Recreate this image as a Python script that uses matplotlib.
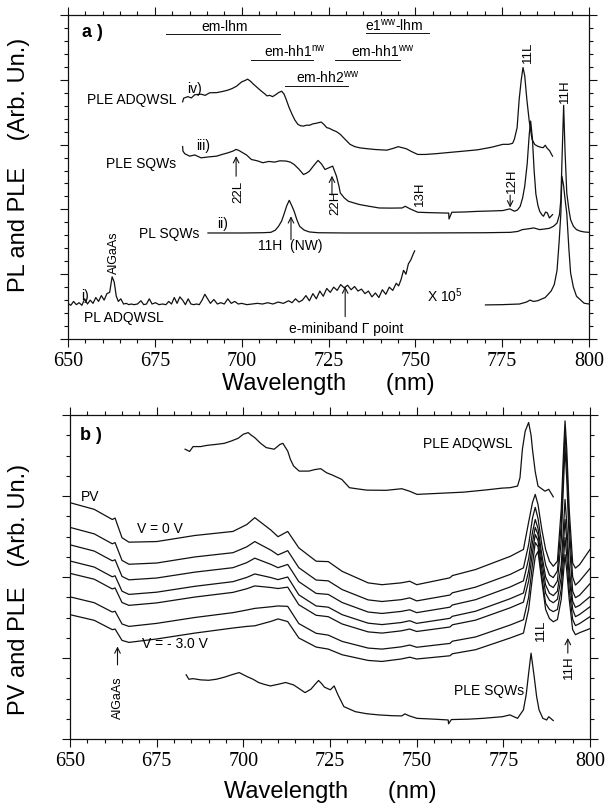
import matplotlib
matplotlib.use('Agg')
import matplotlib.pyplot as plt
from matplotlib.ticker import MultipleLocator

plt.rcParams['font.family'] = ['Liberation Sans', 'DejaVu Sans']
plt.rcParams['mathtext.fontset'] = 'custom'
plt.rcParams['mathtext.rm'] = 'Liberation Sans'
plt.rcParams['mathtext.it'] = 'Liberation Sans:italic'
plt.rcParams['mathtext.bf'] = 'Liberation Sans:bold'

# ---------------- tick labels ----------------
xticks = [650, 675, 700, 725, 750, 775, 800]
xtick_labels = ['650', '675', '700', '725', '750', '775', '800']

# ---------------- panel a data ----------------
# iv) PLE ADQWSL
a_iv_x = [683.0, 683.3, 684.5, 685.5, 686.5, 688.3, 689.5, 690.8, 692.8, 694.5,
          696.0, 697.2, 698.5, 700.0, 701.0, 701.7, 702.5, 703.4, 704.5, 705.6,
          706.5, 707.3, 708.1, 708.9, 709.8, 710.6, 711.5, 712.2, 712.8, 713.6,
          714.5, 715.3, 716.2, 717.0, 717.8, 718.7, 719.5, 720.5, 721.5, 722.9,
          723.7, 724.5, 725.3, 726.2, 727.3, 728.4, 729.8, 731.2, 732.5, 734.0,
          736.2, 738.5, 741.8, 743.5, 745.1, 747.4, 749.0, 750.7, 752.9, 756.0,
          760.0, 764.1, 768.0, 772.0, 775.2, 776.9, 778.0, 778.5, 779.3, 779.9,
          780.5, 781.0, 781.5, 782.1, 782.8, 783.6, 784.4, 785.2, 786.0, 786.8,
          787.4, 788.0, 788.6, 789.5]
a_iv_y = [18.3, 18.58, 18.7, 18.6, 18.85, 18.89, 18.8, 19.0, 19.01, 19.1,
          19.2, 19.32, 19.5, 19.84, 19.95, 20.05, 19.9, 19.66, 19.4, 19.14,
          18.95, 18.76, 18.8, 18.70, 18.85, 19.01, 19.12, 18.9, 18.50, 17.9,
          17.34, 16.9, 16.56, 16.45, 16.43, 16.5, 16.49, 16.6, 16.65, 16.74,
          16.55, 16.31, 16.25, 16.12, 16.0, 15.79, 15.4, 15.02, 14.85, 14.75,
          14.68, 14.62, 14.57, 14.7, 14.84, 14.68, 14.45, 14.24, 14.24, 14.3,
          14.4, 14.50, 14.6, 14.8, 15.02, 15.02, 15.1, 15.40, 16.3, 18.50,
          20.0, 20.95, 20.3, 18.50, 16.8, 15.40, 15.0, 14.88, 14.8, 14.76,
          14.95, 14.7, 14.55, 14.11]

# iii) PLE SQWs
a_iii_x = [683.0, 683.1, 683.6, 685.0, 686.5, 688.3, 690.5, 692.8, 694.5, 696.1,
           697.5, 698.4, 699.2, 700.0, 701.4, 702.8, 704.5, 706.1, 707.8, 709.5,
           711.0, 712.8, 714.0, 715.1, 716.5, 717.8, 718.7, 719.5, 720.8, 722.0,
           723.0, 724.0, 725.1, 726.2, 727.3, 728.0, 728.4, 729.5, 730.7, 732.3,
           734.0, 736.5, 739.6, 743.0, 746.2, 747.1, 748.5, 750.7, 754.0, 758.5,
           759.6, 759.7, 760.5, 764.1, 768.0, 772.0, 775.2, 777.2, 778.5, 779.4,
           780.2, 780.9, 781.5, 782.2, 782.8, 783.2, 783.7, 784.2, 784.7, 785.3,
           785.8, 786.4, 786.9, 787.5, 788.0, 788.6, 789.5]
a_iii_y = [14.85, 14.5, 14.3, 14.11, 14.2, 13.98, 14.05, 14.11, 14.25, 14.37,
           14.5, 14.63, 14.55, 14.42, 14.2, 13.85, 13.75, 13.60, 13.7, 13.65,
           13.75, 13.73, 13.65, 13.47, 13.1, 12.69, 12.8, 12.95, 13.4, 13.78,
           13.5, 13.08, 13.21, 13.34, 12.56, 11.8, 11.27, 10.9, 10.63, 10.5,
           10.37, 10.25, 10.11, 10.1, 10.11, 10.24, 10.04, 9.78, 9.75, 9.72,
           9.72, 9.26, 9.78, 9.80, 9.85, 9.88, 9.91, 10.04, 9.86, 9.95,
           10.24, 10.9, 11.8, 13.5, 15.8, 16.82, 15.5, 13.0, 11.2, 10.3,
           9.86, 9.6, 9.47, 9.8, 9.73, 9.34, 9.60]

# ii) PL SQWs
a_ii_x = [690.3, 700.0, 706.0, 708.4, 709.7, 710.6, 711.5, 712.3, 713.0, 713.7,
          714.4, 715.1, 715.9, 716.7, 718.0, 719.5, 722.0, 730.0, 750.0, 770.0,
          777.4, 779.5, 780.8, 782.5, 784.1, 785.0, 785.8, 787.5, 788.6, 789.8,
          790.8, 791.5, 791.9, 792.3, 792.7, 793.1, 793.6, 794.2, 794.7, 795.5,
          796.4, 797.5, 798.6, 800.0]
a_ii_y = [8.18, 8.18, 8.2, 8.23, 8.4, 8.69, 9.1, 9.72, 10.3, 10.70,
          10.3, 9.86, 9.2, 8.69, 8.4, 8.26, 8.2, 8.18, 8.18, 8.2,
          8.23, 8.3, 8.44, 8.5, 8.57, 8.5, 8.44, 8.5, 8.54, 8.7,
          8.95, 9.6, 10.76, 14.5, 18.03, 14.5, 11.27, 10.0, 9.21, 8.7,
          8.44, 8.32, 8.26, 8.23]

# i) PL ADQWSL (left part)
a_i_x = [650.0, 650.8, 651.6, 652.4, 653.2, 654.0, 654.8, 655.6, 656.4, 657.2,
         658.0, 658.8, 659.6, 660.4, 661.2, 662.0, 662.7, 663.3, 663.9, 664.5,
         665.2, 666.0, 666.8, 667.5, 668.2, 669.0, 670.0, 671.0, 671.8, 672.6,
         673.4, 674.2, 675.2, 676.2, 677.2, 678.2, 679.0, 679.8, 680.6, 681.4,
         682.2, 683.0, 683.8, 684.6, 685.4, 686.2, 687.0, 687.8, 688.6, 689.4,
         690.2, 691.0, 692.0, 693.0, 694.0, 695.0, 696.0, 697.0, 698.0, 699.0,
         700.0, 701.5, 703.0, 704.5, 706.0, 707.5, 709.0, 710.5, 712.0, 713.5,
         714.5, 715.5, 716.5, 717.5, 718.5, 719.5, 720.5, 721.5, 722.5, 723.5,
         724.5, 725.5, 726.5, 727.5, 728.5, 729.5, 730.5, 731.5, 732.5, 733.5,
         734.5, 735.5, 736.5, 737.5, 738.5, 739.5, 740.5, 741.5, 742.5, 743.5,
         744.5, 745.2, 745.9, 746.6, 747.3, 748.0, 748.7, 749.3, 749.8]
a_i_y = [2.75, 2.6, 2.9, 2.65, 2.8, 2.6, 3.1, 2.7, 3.0, 2.75,
         3.2, 2.9, 3.35, 3.0, 3.5, 3.6, 4.8, 4.4, 3.3, 2.9,
         3.1, 2.7, 2.75, 2.65, 2.7, 2.65, 2.7, 2.95, 2.65, 2.7,
         3.1, 2.7, 2.8, 2.65, 2.7, 2.65, 2.9, 2.7, 3.2, 2.75,
         3.25, 3.0, 2.65, 3.1, 2.7, 2.65, 2.7, 2.65, 3.0, 3.45,
         3.1, 2.75, 3.05, 2.7, 2.8, 2.7, 3.1, 2.75, 2.9, 2.7,
         2.75, 2.65, 2.7, 2.75, 2.7, 2.8, 2.7, 2.85, 2.75, 2.95,
         2.8, 3.1, 2.85, 3.0, 3.35, 2.95, 3.5, 3.1, 3.7, 3.3,
         3.9, 3.6, 4.0, 3.75, 4.2, 3.95, 4.15, 3.8, 4.05, 3.7,
         3.85, 3.5, 3.7, 3.25, 3.55, 3.2, 3.8, 3.45, 4.0, 3.75,
         4.3, 4.1, 4.6, 5.3, 5.0, 5.8, 6.1, 6.5, 6.8]

# i) PL ADQWSL (x 10^5 part)
a_i2_x = [770.2, 775.0, 780.0, 782.0, 783.0, 784.0, 785.2, 787.4, 789.1, 790.0,
          790.8, 791.4, 791.9, 792.2, 792.7, 793.1, 793.6, 794.2, 794.7, 795.5,
          796.4, 798.6, 800.0]
a_i2_y = [2.63, 2.65, 2.7, 2.85, 3.0, 2.9, 2.95, 3.2, 3.7, 4.2,
          5.3, 7.5, 9.7, 12.56, 11.8, 10.8, 9.7, 7.0, 5.1, 4.0,
          3.3, 2.76, 2.7]

# ---------------- panel b data ----------------
b_adq_x = [683.2, 684.5, 685.5, 687.7, 689.5, 692.2, 694.5, 696.6, 698.5, 700.0,
           701.4, 702.3, 703.3, 705.0, 706.6, 708.9, 710.6, 711.4, 712.8, 713.6,
           714.5, 716.1, 718.9, 720.5, 722.3, 724.0, 725.6, 728.4, 730.6, 733.0,
           735.6, 741.2, 745.7, 747.9, 750.1, 755.0, 763.5, 770.0, 774.7, 776.9,
           779.1, 779.8, 780.5, 781.3, 782.3, 783.0, 783.4, 784.2, 785.0, 787.0,
           788.1, 789.4]
b_adq_y = [14.31, 14.2, 14.44, 14.44, 14.5, 14.55, 14.6, 14.72, 14.85, 15.05,
           15.13, 15.0, 14.88, 14.6, 14.39, 14.31, 14.55, 14.60, 14.22, 13.8,
           13.48, 13.23, 13.23, 13.3, 13.35, 13.15, 13.04, 12.82, 12.41, 12.35,
           12.29, 12.28, 12.36, 12.24, 12.08, 12.12, 12.19, 12.3, 12.39, 12.41,
           12.49, 12.9, 14.31, 15.2, 15.63, 15.0, 14.31, 13.2, 12.49, 12.24,
           12.33, 11.96]

b_sqw_x = [683.5, 684.3, 685.5, 687.7, 690.0, 692.2, 694.5, 696.6, 698.8, 701.1,
           702.8, 704.4, 706.0, 707.8, 710.0, 712.2, 714.5, 716.0, 717.8, 719.5,
           720.7, 721.7, 722.5, 723.4, 725.1, 726.2, 727.3, 729.0, 732.3, 735.5,
           739.0, 743.0, 745.7, 746.6, 747.9, 750.1, 755.0, 759.1, 759.2, 760.0,
           765.0, 769.1, 774.7, 776.9, 779.1, 780.8, 781.6, 782.3, 783.0, 783.9,
           784.6, 785.3, 786.4, 787.5, 788.1, 789.4]
b_sqw_y = [3.17, 2.95, 2.98, 2.92, 2.9, 2.95, 3.05, 3.17, 3.28, 3.08,
           2.95, 2.79, 2.7, 2.62, 2.7, 2.79, 2.67, 2.5, 2.29, 2.46,
           2.7, 2.89, 2.75, 2.56, 2.43, 2.62, 2.18, 1.60, 1.35, 1.25,
           1.19, 1.15, 1.14, 1.24, 1.14, 1.02, 0.98, 0.94, 0.75, 0.96,
           0.98, 1.02, 1.10, 1.19, 1.02, 1.44, 2.2, 3.25, 4.24, 3.08,
           2.1, 1.44, 1.02, 0.94, 1.10, 0.91]

# PV spectra, V = 0 V (top) ... V = -3.0 V (bottom)
pv_x = [650.0, 657.0, 662.2, 663.0, 665.0, 667.0, 675.0, 686.0, 697.0, 701.0,
        703.3, 708.0, 710.0, 712.8, 716.0, 721.0, 724.5, 728.5, 736.0, 740.0,
        745.5, 748.0, 750.0, 759.6, 760.3, 767.0, 777.0, 780.8, 782.3, 783.4,
        784.2, 785.0, 786.1, 787.2, 788.3, 789.4, 790.6, 791.7, 792.4, 792.8,
        793.3, 794.0, 795.0, 795.8, 797.0, 800.0]
pv_0 = [11.67, 11.34, 10.84, 10.91, 9.94, 9.72, 9.75, 10.05, 10.25, 10.59,
        10.93, 10.31, 9.99, 10.25, 9.44, 8.78, 8.76, 8.28, 7.71, 7.62,
        7.71, 7.79, 7.62, 7.96, 8.07, 8.37, 9.02, 9.36, 10.71, 11.67,
        12.08, 11.58, 10.35, 9.36, 8.78, 8.53, 8.78, 11.34, 14.31, 15.71,
        14.31, 11.34, 8.69, 8.44, 8.61, 9.36]
pv_1 = [10.45, 10.13, 9.64, 9.70, 8.82, 8.63, 8.69, 8.99, 9.20, 9.49,
        9.75, 9.32, 9.09, 9.3, 8.46, 7.85, 7.81, 7.38, 6.87, 6.79,
        6.88, 6.97, 6.82, 7.11, 7.22, 7.50, 8.13, 8.45, 9.6, 10.9,
        11.44, 10.9, 9.6, 8.6, 8.1, 7.97, 8.3, 10.6, 13.6, 15.20,
        13.6, 10.6, 8.0, 7.6, 7.8, 8.42]
pv_2 = [9.59, 9.28, 8.80, 8.85, 8.03, 7.86, 7.95, 8.24, 8.46, 8.71,
        8.93, 8.62, 8.46, 8.62, 7.77, 7.19, 7.14, 6.74, 6.27, 6.20,
        6.30, 6.38, 6.24, 6.51, 6.62, 6.88, 7.51, 7.81, 8.9, 10.2,
        10.84, 10.4, 9.1, 8.0, 7.6, 7.48, 7.8, 9.8, 12.8, 14.41,
        12.8, 9.8, 7.3, 6.98, 7.1, 7.67]
pv_3 = [8.79, 8.49, 8.01, 8.06, 7.30, 7.14, 7.25, 7.54, 7.77, 7.98,
        8.15, 7.97, 7.87, 8.0, 7.12, 6.57, 6.51, 6.14, 5.72, 5.65,
        5.75, 5.84, 5.71, 5.96, 6.06, 6.31, 6.93, 7.21, 8.3, 9.7,
        10.45, 10.1, 8.8, 7.6, 7.2, 7.08, 7.3, 8.6, 10.6, 11.83,
        10.6, 8.5, 6.8, 6.5, 6.6, 7.03]
pv_4 = [8.18, 7.89, 7.41, 7.46, 6.74, 6.60, 6.72, 7.01, 7.24, 7.42,
        7.56, 7.48, 7.43, 7.5, 6.63, 6.11, 6.04, 5.68, 5.29, 5.23,
        5.34, 5.43, 5.31, 5.53, 5.64, 5.87, 6.48, 6.76, 7.8, 9.2,
        10.10, 9.8, 8.4, 7.2, 6.85, 6.73, 6.9, 8.0, 9.8, 10.84,
        9.8, 8.0, 6.4, 6.04, 6.15, 6.53]
pv_5 = [7.02, 6.73, 6.27, 6.31, 5.68, 5.56, 5.71, 6.00, 6.24, 6.37,
        6.45, 6.53, 6.57, 6.55, 5.70, 5.22, 5.13, 4.82, 4.49, 4.44,
        4.55, 4.64, 4.53, 4.72, 4.83, 5.04, 5.63, 5.89, 7.0, 8.6,
        9.70, 9.5, 8.0, 6.7, 6.4, 6.29, 6.4, 7.4, 9.0, 9.95,
        9.0, 7.4, 5.9, 5.6, 5.7, 6.04]
pv_6 = [6.14, 5.86, 5.40, 5.43, 4.87, 4.77, 4.94, 5.23, 5.48, 5.56,
        5.59, 5.81, 5.93, 5.80, 4.99, 4.54, 4.44, 4.16, 3.88, 3.83,
        3.95, 4.04, 3.95, 4.11, 4.21, 4.41, 4.99, 5.23, 6.4, 8.0,
        9.0, 9.26, 7.8, 6.4, 5.95, 5.79, 5.9, 6.9, 8.3, 9.11,
        8.3, 6.9, 5.4, 5.15, 5.25, 5.45]
pv_curves = [pv_0, pv_1, pv_2, pv_3, pv_4, pv_5, pv_6]

# ---------------- figure ----------------
LC = '#111111'
LW = 0.9
fig = plt.figure(figsize=(6.06, 8.04), dpi=100)
axa = fig.add_axes([68 / 606, 1 - 340 / 804, 521 / 606, 324 / 804])
axb = fig.add_axes([70 / 606, 1 - 740 / 804, 520 / 606, 324 / 804])


def style(ax, ymax, ymajor):
    ax.set_xlim(650, 800)
    ax.set_ylim(0, ymax)
    ax.set_xticks(xticks)
    ax.set_xticklabels(xtick_labels, fontfamily='Liberation Serif', fontsize=14.5)
    ax.xaxis.set_minor_locator(MultipleLocator(5))
    ax.yaxis.set_major_locator(MultipleLocator(ymajor))
    ax.yaxis.set_minor_locator(MultipleLocator(1))
    ax.tick_params(which='both', direction='out', top=True, right=True,
                   labelleft=False, color=LC, width=0.8)
    ax.tick_params(which='major', length=5.5, pad=3.5)
    ax.tick_params(which='minor', length=3)
    for s in ax.spines.values():
        s.set_linewidth(0.9)
        s.set_color(LC)


style(axa, 25, 5)
style(axb, 16, 4)

# ---- panel a curves ----
for xs, ys in [(a_iv_x, a_iv_y), (a_iii_x, a_iii_y), (a_ii_x, a_ii_y),
               (a_i_x, a_i_y), (a_i2_x, a_i2_y)]:
    axa.plot(xs, ys, color=LC, lw=LW)

FS = 10
axa.text(656.9, 23.7, 'a )', fontsize=13, fontweight='bold', ha='center', va='center')
# transition bars
bars = [(678.2, 711.0, 23.53, 695.0, 'em-lhm'),
        (735.7, 753.8, 23.58, 744.0, 'e1$^{\\mathregular{ww}}$-lhm'),
        (702.8, 720.6, 21.54, 715.3, 'em-hh1$^{\\mathregular{nw}}$'),
        (726.8, 745.7, 21.54, 740.6, 'em-hh1$^{\\mathregular{ww}}$'),
        (712.6, 730.7, 19.53, 724.8, 'em-hh2$^{\\mathregular{ww}}$')]
for x0, x1, yb, xt, txt in bars:
    axa.plot([x0, x1], [yb, yb], color=LC, lw=0.7)
    axa.text(xt, yb + 0.3, txt, fontsize=FS, ha='center', va='baseline')

axa.text(686.3, 19.4, 'iv)', fontsize=FS, ha='center', va='center')
axa.text(681.1, 18.5, 'PLE ADQWSL', fontsize=FS, ha='right', va='center')
axa.text(688.9, 15.0, 'iii)', fontsize=FS, ha='center', va='center')
axa.text(681.1, 13.6, 'PLE SQWs', fontsize=FS, ha='right', va='center')
axa.text(694.5, 8.95, 'ii)', fontsize=FS, ha='center', va='center')
axa.text(687.8, 8.18, 'PL SQWs', fontsize=FS, ha='right', va='center')
axa.text(654.9, 3.41, 'i)', fontsize=FS, ha='center', va='center')
axa.text(666.1, 1.73, 'PL ADQWSL', fontsize=FS, ha='center', va='center')
axa.text(663.3, 6.76, 'AlGaAs', fontsize=9, ha='center', va='center', rotation=90)
axa.text(758.5, 3.41, 'X 10$^{\\mathregular{5}}$', fontsize=FS, ha='center', va='center')
axa.text(713.9, 7.28, '11H  (NW)', fontsize=FS, ha='center', va='center')
axa.text(730.1, 0.83, 'e-miniband \u0393 point', fontsize=FS, ha='center', va='center')
axa.text(699.0, 11.4, '22L', fontsize=9.5, ha='center', va='center', rotation=90)
axa.text(727.0, 10.6, '22H', fontsize=9.5, ha='center', va='center', rotation=90)
axa.text(751.3, 11.3, '13H', fontsize=9.5, ha='center', va='center', rotation=90)
axa.text(777.9, 12.3, '12H', fontsize=9.5, ha='center', va='center', rotation=90)
axa.text(782.4, 22.2, '11L', fontsize=9.5, ha='center', va='center', rotation=90)
axa.text(793.0, 19.2, '11H', fontsize=9.5, ha='center', va='center', rotation=90)

arrow = dict(arrowstyle='->', lw=0.8, color=LC, shrinkA=0, shrinkB=0)
for xa, y0, y1 in [(698.4, 12.56, 14.11), (726.0, 11.1, 12.6), (777.3, 11.1, 10.15),
                   (714.2, 7.66, 9.47), (729.8, 1.73, 4.05)]:
    axa.annotate('', xy=(xa, y1), xytext=(xa, y0), arrowprops=arrow)

axa.set_ylabel('PL and PLE    (Arb. Un.)', fontsize=17)
axa.yaxis.set_label_coords(-0.072, 0.54)
axa.set_xlabel('Wavelength      (nm)', fontsize=17)
axa.xaxis.set_label_coords(0.5, -0.135)
axa.xaxis.label.set_va('center')

# ---- panel b curves ----
axb.plot(b_adq_x, b_adq_y, color=LC, lw=LW)
axb.plot(b_sqw_x, b_sqw_y, color=LC, lw=LW)
for ys in pv_curves:
    axb.plot(pv_x, ys, color=LC, lw=LW)

axb.text(655.9, 15.05, 'b )', fontsize=13, fontweight='bold', ha='center', va='center')
axb.text(764.6, 14.64, 'PLE ADQWSL', fontsize=FS, ha='center', va='center')
axb.text(655.9, 12.0, 'PV', fontsize=FS, ha='center', va='center')
axb.text(676.0, 10.43, 'V = 0 V', fontsize=FS, ha='center', va='center')
axb.text(680.4, 4.74, 'V = - 3.0 V', fontsize=FS, ha='center', va='center')
axb.text(663.7, 2.09, 'AlGaAs', fontsize=9, ha='center', va='center', rotation=90)
axb.text(770.8, 2.43, 'PLE SQWs', fontsize=FS, ha='center', va='center')
axb.text(785.8, 5.40, '11L', fontsize=9.5, ha='center', va='center', rotation=90)
axb.text(793.9, 3.58, '11H', fontsize=9.5, ha='center', va='center', rotation=90)
for xa, y0, y1 in [(663.7, 3.66, 4.57), (793.6, 4.24, 4.99)]:
    axb.annotate('', xy=(xa, y1), xytext=(xa, y0), arrowprops=arrow)

axb.set_ylabel('PV and PLE   (Arb. Un.)', fontsize=17)
axb.yaxis.set_label_coords(-0.077, 0.465)
axb.set_xlabel('Wavelength      (nm)', fontsize=17)
axb.xaxis.set_label_coords(0.5, -0.16)
axb.xaxis.label.set_va('center')

fig.savefig('out.png', dpi=100)
